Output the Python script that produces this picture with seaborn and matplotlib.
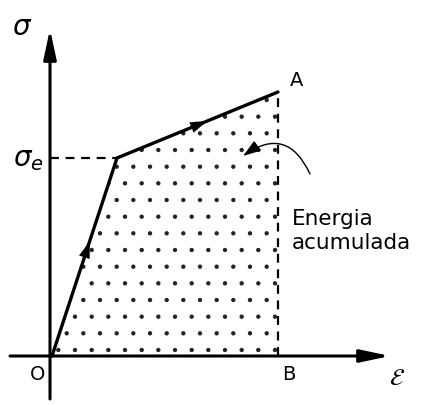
import matplotlib
matplotlib.use("Agg")
import matplotlib.pyplot as plt
import seaborn as sns
import pandas as pd
import numpy as np

sns.set_theme(style="white")
plt.rcParams['font.family'] = ['DejaVu Sans']
plt.rcParams['text.color'] = 'black'
plt.rcParams['hatch.linewidth'] = 0.7

# curva tension-deformacion (O -> limite elastico -> A)
strain = [0.0, 0.65, 2.26]
stress = [0.0, 1.98, 2.64]
point_names = ['O', 'e', 'A']
label_energy = 'Energia\nacumulada'

df = pd.DataFrame({'strain': strain, 'stress': stress})

fig = plt.figure(figsize=(4.30, 4.06), dpi=100)
ax = fig.add_axes([0, 0, 1, 1])
ax.set_xlim(-0.52, 3.78)
ax.set_ylim(-0.49, 3.57)
ax.axis('off')

# area rayada (energia)
ax.fill_between(df['strain'], 0, df['stress'], facecolor='none',
                edgecolor='#222222', linewidth=0, hatch='.')

# curva
sns.lineplot(data=df, x='strain', y='stress', color='black', lw=2.4,
             sort=False, estimator=None, ax=ax)

# ejes
ax.annotate('', xy=(3.38, 0), xytext=(-0.42, 0),
            arrowprops=dict(arrowstyle='-|>,head_length=1.5,head_width=0.32',
                            color='black', lw=2.2, shrinkA=0, shrinkB=0))
ax.annotate('', xy=(-0.02, 3.27), xytext=(-0.02, -0.43),
            arrowprops=dict(arrowstyle='-|>,head_length=1.5,head_width=0.32',
                            color='black', lw=2.2, shrinkA=0, shrinkB=0))

# lineas discontinuas
ax.plot([-0.02, strain[1]], [stress[1], stress[1]], ls=(0, (4, 3)), color='black', lw=1.6)
ax.plot([strain[2], strain[2]], [0, stress[2]], ls=(0, (4, 3)), color='black', lw=1.6)

# flechas sobre la curva
for i in range(2):
    x0, y0 = strain[i], stress[i]
    x1, y1 = strain[i + 1], stress[i + 1]
    f = 0.58 if i == 0 else 0.56
    xa, ya = x0 + (x1 - x0) * (f - 0.08), y0 + (y1 - y0) * (f - 0.08)
    xb, yb = x0 + (x1 - x0) * f, y0 + (y1 - y0) * f
    ax.annotate('', xy=(xb, yb), xytext=(xa, ya),
                arrowprops=dict(arrowstyle='-|>,head_length=1.0,head_width=0.33',
                                color='black', lw=0.1, shrinkA=0, shrinkB=0))

# textos
ax.text(-0.30, 3.30, r'$\sigma$', fontsize=20, ha='center', va='center')
ax.text(-0.24, stress[1], r'$\sigma_e$', fontsize=20, ha='center', va='center')
ax.text(strain[2] + 0.19, stress[2] + 0.12, 'A', fontsize=14, ha='center', va='center')
ax.text(strain[2] + 0.11, -0.08, 'B', fontsize=14, ha='center', va='top')
ax.text(-0.14, -0.08, 'O', fontsize=14, ha='center', va='top')
ax.text(3.45, -0.21, r'$\mathcal{E}$', fontsize=17, ha='center', va='center')
ax.text(2.40, 1.26, label_energy, fontsize=15.5, ha='left', va='center',
        linespacing=1.3)

# linea indicadora
ax.annotate('', xy=(1.91, 2.00), xytext=(2.58, 1.82),
            arrowprops=dict(arrowstyle='-|>,head_length=0.9,head_width=0.3',
                            color='black', lw=1.0, shrinkA=0, shrinkB=0,
                            connectionstyle='arc3,rad=0.6'))

fig.savefig('out.png', dpi=100)
